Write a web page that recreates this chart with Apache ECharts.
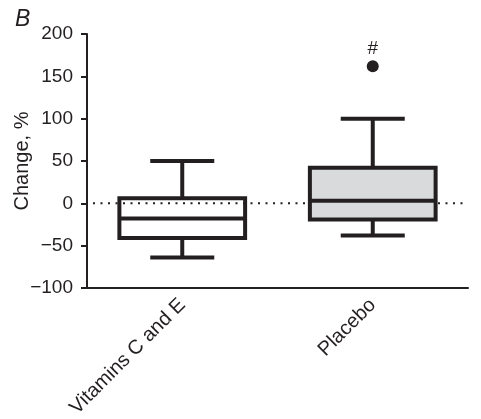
<!DOCTYPE html>
<html>
<head>
<meta charset="utf-8">
<script src="https://cdn.jsdelivr.net/npm/echarts@6/dist/echarts.min.js"></script>
<style>
html,body{margin:0;padding:0;background:#fff;}
#c{width:481px;height:419px;}
</style>
</head>
<body>
<div id="c"></div>
<script>
const categories = ['Vitamins C and E', 'Placebo'];
const whiskerLow = [-64, -38];
const q1 = [-41, -19];
const median = [-18, 3];
const q3 = [6, 42];
const whiskerHigh = [50, 100];
const outlierCategory = [1];
const outlierValue = [162];
const outlierMark = ['#'];
const referenceLine = [0];
const yTicks = { min: -100, max: 200, interval: 50 };

const ink = '#231f20';
const boxFills = ['rgba(0,0,0,0)', '#d9dadc'];
const font = 'Liberation Sans, Arial, sans-serif';

const boxData = categories.map((c, i) => [i, whiskerLow[i], q1[i], median[i], q3[i], whiskerHigh[i]]);
const outlierData = outlierCategory.map((c, i) => ({ value: [c, outlierValue[i]], label: { formatter: outlierMark[i] } }));
const refData = referenceLine.map(v => [0, v]);

const chart = echarts.init(document.getElementById('c'), null, { renderer: 'canvas' });

function renderBox(params, api) {
  const x = api.value(0);
  const cx = api.coord([x, 0])[0];
  const yLow = api.coord([x, api.value(1)])[1];
  const yQ1 = api.coord([x, api.value(2)])[1];
  const yMed = api.coord([x, api.value(3)])[1];
  const yQ3 = api.coord([x, api.value(4)])[1];
  const yHigh = api.coord([x, api.value(5)])[1];
  const band = api.size([1, 0])[0];
  const bw = band * 0.66;
  const cw = band * 0.336;
  const ls = { stroke: ink, lineWidth: 4, lineCap: 'butt' };
  return {
    type: 'group',
    children: [
      { type: 'line', shape: { x1: cx, y1: yQ3, x2: cx, y2: yHigh }, style: ls },
      { type: 'line', shape: { x1: cx, y1: yQ1, x2: cx, y2: yLow }, style: ls },
      { type: 'line', shape: { x1: cx - cw / 2, y1: yHigh, x2: cx + cw / 2, y2: yHigh }, style: ls },
      { type: 'line', shape: { x1: cx - cw / 2, y1: yLow, x2: cx + cw / 2, y2: yLow }, style: ls },
      { type: 'rect', shape: { x: cx - bw / 2, y: yQ3, width: bw, height: yQ1 - yQ3 },
        style: { fill: boxFills[params.dataIndex], stroke: ink, lineWidth: 4 } },
      { type: 'line', shape: { x1: cx - bw / 2, y1: yMed, x2: cx + bw / 2, y2: yMed }, style: ls }
    ]
  };
}

function renderRef(params, api) {
  const cs = params.coordSys;
  const y = api.coord([0, api.value(1)])[1];
  return {
    type: 'line',
    shape: { x1: cs.x + 6, y1: y, x2: cs.x + cs.width, y2: y },
    style: { stroke: ink, lineWidth: 2, lineDash: [2, 5.5], lineCap: 'butt' }
  };
}

chart.setOption({
  animation: false,
  backgroundColor: '#fff',
  textStyle: { fontFamily: font },
  graphic: [{
    type: 'text', left: 15, top: 8,
    style: { text: 'B', font: 'italic 23px "Liberation Sans", Arial, sans-serif', fill: ink }
  }],
  grid: { left: 87, right: 13, top: 34, bottom: 131, containLabel: false, outerBoundsMode: 'none' },
  xAxis: {
    type: 'category',
    data: categories,
    boundaryGap: true,
    axisLine: { onZero: false, lineStyle: { color: ink, width: 2 } },
    axisTick: { alignWithLabel: true, length: 6, lineStyle: { color: ink, width: 2 } },
    axisLabel: { rotate: 45, margin: 14, color: ink, fontSize: 20, fontFamily: font },
    splitLine: { show: false }
  },
  yAxis: {
    type: 'value',
    min: yTicks.min, max: yTicks.max, interval: yTicks.interval,
    name: 'Change, %',
    nameLocation: 'middle',
    nameGap: 55,
    nameMoveOverlap: false,
    nameTextStyle: { color: ink, fontSize: 20, fontFamily: font },
    axisLine: { show: true, onZero: false, lineStyle: { color: ink, width: 2 } },
    axisTick: { show: true, length: 6, lineStyle: { color: ink, width: 2 } },
    axisLabel: { margin: 14, color: ink, fontSize: 19, fontFamily: font,
      formatter: v => String(v).replace('-', '\u2212') },
    splitLine: { show: false }
  },
  series: [
    {
      type: 'custom',
      z: 1,
      renderItem: renderRef,
      encode: { x: 0, y: 1 },
      data: refData,
      silent: true
    },
    {
      type: 'custom',
      z: 3,
      renderItem: renderBox,
      encode: { x: 0, y: [1, 2, 3, 4, 5] },
      data: boxData
    },
    {
      type: 'scatter',
      z: 4,
      symbol: 'circle',
      symbolSize: 12,
      itemStyle: { color: ink, opacity: 1 },
      label: { show: true, position: 'top', distance: 2, color: ink, fontSize: 19, fontFamily: font },
      data: outlierData
    }
  ]
});
</script>
</body>
</html>
